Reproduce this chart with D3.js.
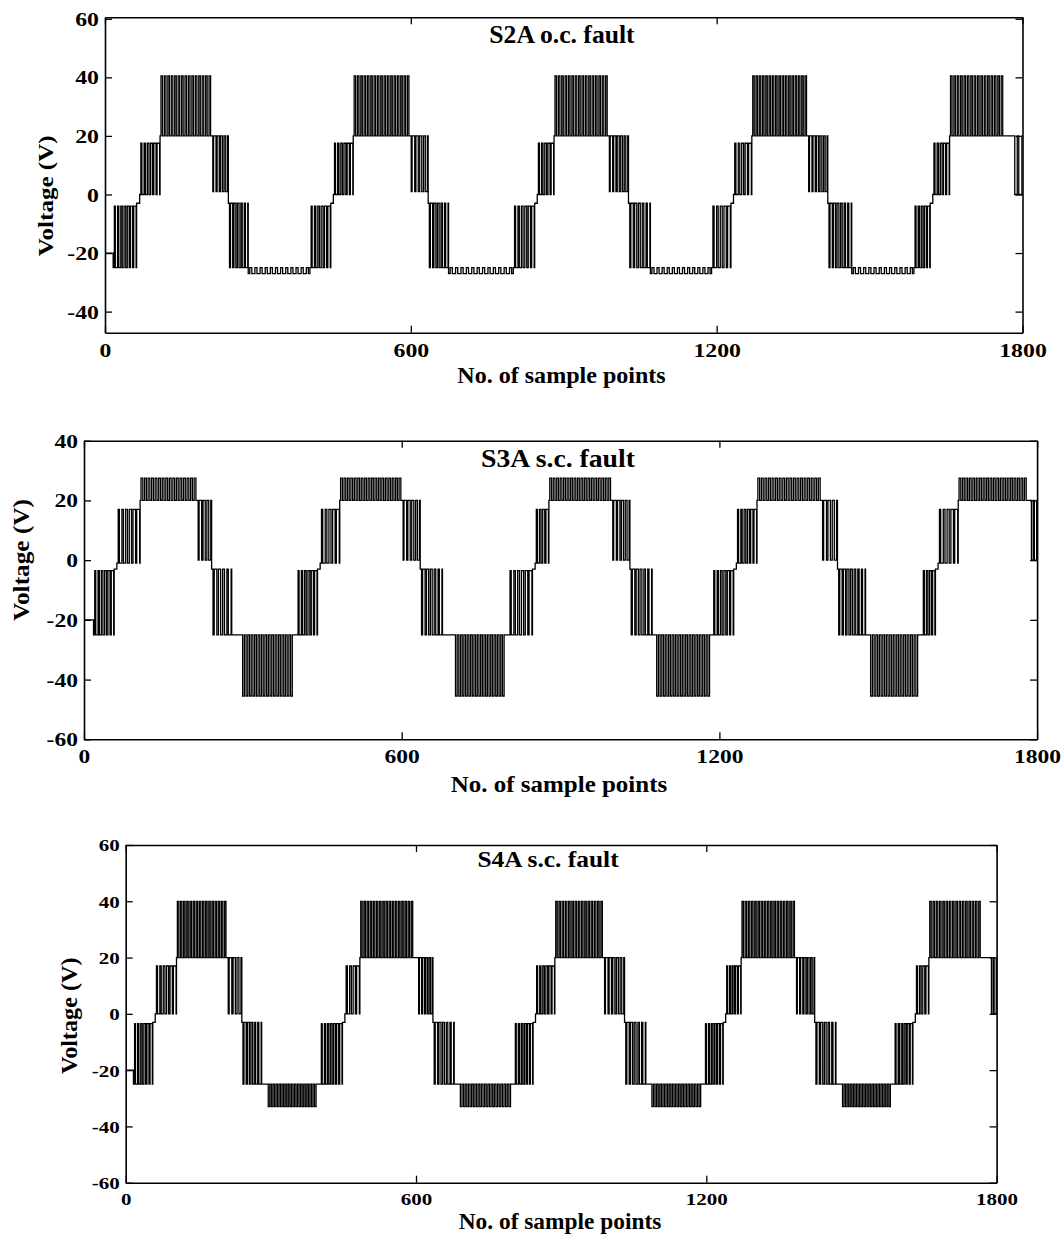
<!DOCTYPE html>
<html><head><meta charset="utf-8">
<script src="https://cdn.jsdelivr.net/npm/d3@7"></script>
<style>html,body{margin:0;padding:0;background:#fff}svg{display:block}</style>
</head><body>
<svg id="c" width="1064" height="1236"></svg>
<script>
// ---------------- DATA ----------------
const titles = ["S2A o.c. fault", "S3A s.c. fault", "S4A s.c. fault"];
const xLabel = "No. of sample points";
const yLabel = "Voltage (V)";
const xTicks = [0, 600, 1200, 1800];
const yTicksS2A = [-40, -20, 0, 20, 40, 60];
const yTicksS3A = [-60, -40, -20, 0, 20, 40];
const yTicksS4A = [-60, -40, -20, 0, 20, 40, 60];

// PWM waveform bands: [start sample, end sample, resting level (V), pulse level (V), pulse count, duty at start, duty at end]
// a band with pulse count 0 is a flat level
const segS2A = [
  [0,16,-20,-20,0,0,0],
  [16,62,-25,-4,7,0.25,0.75],[62,68,-3,-3,0,0,0],[68,108,0,17.5,6,0.25,0.8],
  [108,209,20,40.5,15,0.45,0.45],[209,242,20,1,5,0.2,0.6],[242,281,-3,-25,6,0.25,0.75],
  [281,402,-27,-25,12,0.4,0.4],
  [402,443,-25,-4,6,0.25,0.75],[443,448,-3,-3,0,0,0],[448,487,0,17.5,6,0.25,0.8],
  [487,598,20,40.5,17,0.45,0.45],[598,634,20,1,5,0.2,0.6],[634,674,-3,-25,6,0.25,0.75],
  [674,801,-27,-25,12,0.4,0.4],
  [801,843,-25,-4,6,0.25,0.75],[843,848,-3,-3,0,0,0],[848,881,0,17.5,5,0.25,0.8],
  [881,987,20,40.5,16,0.45,0.45],[987,1027,20,1,6,0.2,0.6],[1027,1070,-3,-25,6,0.25,0.75],
  [1070,1190,-27,-25,12,0.4,0.4],
  [1190,1228,-25,-4,5,0.25,0.75],[1228,1233,-3,-3,0,0,0],[1233,1269,0,17.5,5,0.25,0.8],
  [1269,1378,20,40.5,17,0.45,0.45],[1378,1418,20,1,6,0.2,0.6],[1418,1465,-3,-25,7,0.25,0.75],
  [1465,1587,-27,-25,12,0.4,0.4],
  [1587,1619,-25,-4,5,0.25,0.75],[1619,1624,-3,-3,0,0,0],[1624,1657,0,17.5,5,0.25,0.8],
  [1657,1763,20,40.5,16,0.45,0.45],[1763,1783,20,20,0,0,0],[1783,1800,20,0,2,0.5,0.8]
];
const segS3A = [
  [0,18,-20,-20,0,0,0],
  [18,57,-25,-3.5,6,0.25,0.75],[57,62,-3,-3,0,0,0],[62,106,-1,17,6,0.25,0.8],
  [106,213,20,27.5,16,0.5,0.5],[213,241,20,0,4,0.2,0.6],[241,279,-3,-25,5,0.25,0.75],
  [279,298,-25,-25,0,0,0],[298,395,-25,-45.5,15,0.5,0.5],[395,402,-25,-25,0,0,0],
  [402,441,-25,-3.5,6,0.25,0.75],[441,446,-3,-3,0,0,0],[446,483,-1,17,5,0.25,0.8],
  [483,600,20,27.5,18,0.5,0.5],[600,635,20,0,5,0.2,0.6],[635,677,-3,-25,6,0.25,0.75],
  [677,700,-25,-25,0,0,0],[700,795,-25,-45.5,15,0.5,0.5],[795,802,-25,-25,0,0,0],
  [802,847,-25,-3.5,6,0.25,0.75],[847,852,-3,-3,0,0,0],[852,878,-1,17,4,0.25,0.8],
  [878,996,20,27.5,18,0.5,0.5],[996,1031,20,0,5,0.2,0.6],[1031,1073,-3,-25,6,0.25,0.75],
  [1073,1080,-25,-25,0,0,0],[1080,1183,-25,-45.5,16,0.5,0.5],[1183,1187,-25,-25,0,0,0],
  [1187,1227,-25,-3.5,6,0.25,0.75],[1227,1232,-3,-3,0,0,0],[1232,1271,-1,17,6,0.25,0.8],
  [1271,1392,20,27.5,18,0.5,0.5],[1392,1423,20,0,4,0.2,0.6],[1423,1476,-3,-25,8,0.25,0.75],
  [1476,1484,-25,-25,0,0,0],[1484,1576,-25,-45.5,14,0.5,0.5],[1576,1583,-25,-25,0,0,0],
  [1583,1608,-25,-3.5,4,0.25,0.75],[1608,1613,-3,-3,0,0,0],[1613,1651,-1,17,5,0.25,0.8],
  [1651,1781,20,27.5,20,0.5,0.5],[1781,1788,20,20,0,0,0],[1788,1800,20,0,2,0.5,0.8]
];
const segS4A = [
  [0,16,-20,-20,0,0,0],
  [16,56,-25,-3.5,6,0.25,0.75],[56,61,-3,-3,0,0,0],[61,105,0,17,6,0.25,0.8],
  [105,209,20,40,16,0.45,0.45],[209,240,20,0,4,0.2,0.6],[240,281,-3,-25,6,0.25,0.75],
  [281,293,-25,-25,0,0,0],[293,395,-25,-33,16,0.5,0.5],[395,402,-25,-25,0,0,0],
  [402,448,-25,-3.5,7,0.25,0.75],[448,453,-3,-3,0,0,0],[453,484,0,17,4,0.25,0.8],
  [484,595,20,40,17,0.45,0.45],[595,603,20,20,0,0,0],[603,635,20,0,5,0.2,0.6],[635,679,-3,-25,6,0.25,0.75],
  [679,690,-25,-25,0,0,0],[690,797,-25,-33,16,0.5,0.5],[797,803,-25,-25,0,0,0],
  [803,842,-25,-3.5,6,0.25,0.75],[842,847,-3,-3,0,0,0],[847,887,0,17,6,0.25,0.8],
  [887,987,20,40,15,0.45,0.45],[987,1031,20,0,6,0.2,0.6],[1031,1075,-3,-25,6,0.25,0.75],
  [1075,1086,-25,-25,0,0,0],[1086,1190,-25,-33,16,0.5,0.5],[1190,1196,-25,-25,0,0,0],
  [1196,1235,-25,-3.5,6,0.25,0.75],[1235,1240,-3,-3,0,0,0],[1240,1272,0,17,5,0.25,0.8],
  [1272,1384,20,40,17,0.45,0.45],[1384,1424,20,0,6,0.2,0.6],[1424,1468,-3,-25,6,0.25,0.75],
  [1468,1480,-25,-25,0,0,0],[1480,1582,-25,-33,16,0.5,0.5],[1582,1588,-25,-25,0,0,0],
  [1588,1627,-25,-3.5,6,0.25,0.75],[1627,1632,-3,-3,0,0,0],[1632,1660,0,17,4,0.25,0.8],
  [1660,1768,20,40,16,0.45,0.45],[1768,1788,20,20,0,0,0],[1788,1800,20,0,2,0.5,0.8]
];

// ---------------- LAYOUT ----------------
const FONT = '"Liberation Serif","Times New Roman",serif';
const panels = [
  {seg: segS2A, title: titles[0], yTicks: yTicksS2A, xDom: [0,1800], yDom: [-47.2, 60.5],
   L: 105, R: 1022.5, T: 17.3, B: 332.7,
   tX: 562, tY: 43.3, tF: 24.2, tSx: 1.06,
   xlX: 561.5, xlY: 383.3, xlF: 22.7, xlSx: 1.06,
   ylX: 52.7, ylY: 195.8, ylF: 22, ylSx: 1.14,
   tkF: 19.5, tkSx: 1.22, xtY: 357},
  {seg: segS3A, title: titles[1], yTicks: yTicksS3A, xDom: [0,1800], yDom: [-60, 40],
   L: 84, R: 1037.1, T: 440.7, B: 739.3,
   tX: 558, tY: 466.7, tF: 25.2, tSx: 1.1,
   xlX: 559, xlY: 791.7, xlF: 22.7, xlSx: 1.1,
   ylX: 28.7, ylY: 560, ylF: 23, ylSx: 1.1,
   tkF: 19, tkSx: 1.24, xtY: 763.3},
  {seg: segS4A, title: titles[2], yTicks: yTicksS4A, xDom: [0,1800], yDom: [-60, 60],
   L: 125.7, R: 996.6, T: 845, B: 1182.7,
   tX: 548, tY: 866.7, tF: 22.7, tSx: 1.12,
   xlX: 560, xlY: 1229, xlF: 22.7, xlSx: 1.03,
   ylX: 77, ylY: 1015.8, ylF: 23, ylSx: 1.05,
   tkF: 17.5, tkSx: 1.2, xtY: 1205}
];

const svg = d3.select('#c');

function toSteps(seg) {
  const pts = [];
  seg.forEach(([s0, s1, a, b, n, d0, d1]) => {
    pts.push([s0, a]);
    if (n > 0) {
      const T = (s1 - s0) / n;
      for (let k = 0; k < n; k++) {
        const c = s0 + (k + 0.5) * T;
        const d = d0 + (d1 - d0) * (k + 0.5) / n;
        const w = d * T;
        pts.push([c - w / 2, b], [c + w / 2, a]);
      }
    }
  });
  const last = seg[seg.length - 1];
  pts.push([last[1], pts[pts.length - 1][1]]);
  return pts;
}

function label(g, str, x, y, F, sx, anchor, rot) {
  g.append('text')
    .attr('transform', `translate(${x},${y})` + (rot ? ` rotate(${rot})` : '') + ` scale(${sx},1)`)
    .attr('text-anchor', anchor)
    .attr('font-family', FONT).attr('font-weight', 'bold').attr('font-size', F)
    .attr('fill', '#000')
    .text(str);
}

const fmt = d => String(d);

panels.forEach(p => {
  const x = d3.scaleLinear().domain(p.xDom).range([p.L, p.R]);
  const y = d3.scaleLinear().domain(p.yDom).range([p.B, p.T]);
  const g = svg.append('g');

  // waveform
  const line = d3.line().x(d => x(d[0])).y(d => y(d[1])).curve(d3.curveStepAfter);
  g.append('path').datum(toSteps(p.seg))
    .attr('d', line).attr('fill', 'none').attr('stroke', '#000').attr('stroke-width', 1.3);

  const tk = 7;
  // bottom axis
  const gb = g.append('g').attr('transform', `translate(0,${p.B})`)
    .call(d3.axisBottom(x).tickValues(xTicks).tickSizeInner(-tk).tickSizeOuter(0).tickFormat(fmt))
    .attr('font-family', FONT).attr('font-size', p.tkF).attr('font-weight', 'bold');
  gb.selectAll('.tick text').attr('x', null).attr('y', null).attr('dy', null)
    .attr('transform', `translate(0,${p.xtY - p.B}) scale(${p.tkSx},1)`).attr('fill', '#000');
  // top axis
  g.append('g').attr('transform', `translate(0,${p.T})`)
    .call(d3.axisTop(x).tickValues(xTicks).tickSizeInner(-tk).tickSizeOuter(0).tickFormat(''));
  // left axis
  const gl = g.append('g').attr('transform', `translate(${p.L},0)`)
    .call(d3.axisLeft(y).tickValues(p.yTicks).tickSizeInner(-tk).tickSizeOuter(0).tickFormat(fmt))
    .attr('font-family', FONT).attr('font-size', p.tkF).attr('font-weight', 'bold');
  gl.selectAll('.tick text').attr('x', null).attr('y', null).attr('dy', null)
    .attr('text-anchor', 'end')
    .attr('transform', `translate(-6,${(0.34 * p.tkF).toFixed(2)}) scale(${p.tkSx},1)`).attr('fill', '#000');
  // right axis
  g.append('g').attr('transform', `translate(${p.R},0)`)
    .call(d3.axisRight(y).tickValues(p.yTicks).tickSizeInner(-tk).tickSizeOuter(0).tickFormat(''));

  g.selectAll('.domain').attr('stroke', '#000').attr('stroke-width', 1.6);
  g.selectAll('.tick line').attr('stroke', '#000').attr('stroke-width', 1.3);

  label(g, p.title, p.tX, p.tY, p.tF, p.tSx, 'middle');
  label(g, xLabel, p.xlX, p.xlY, p.xlF, p.xlSx, 'middle');
  label(g, yLabel, p.ylX, p.ylY, p.ylF, p.ylSx, 'middle', -90);
});
</script>
</body></html>
